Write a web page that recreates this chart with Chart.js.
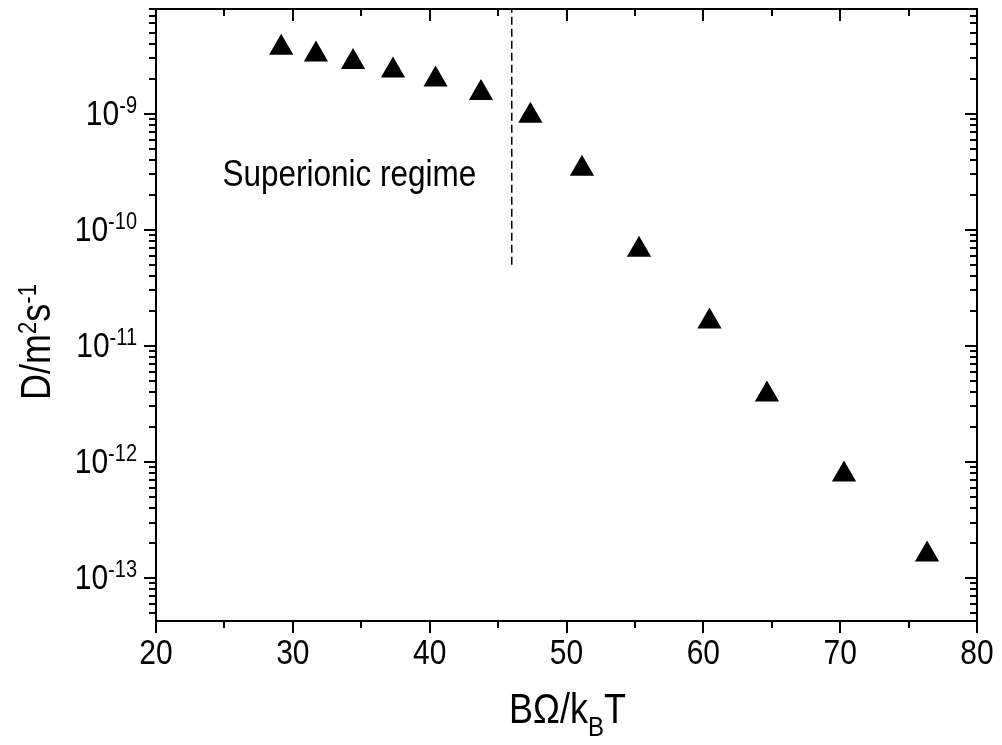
<!DOCTYPE html>
<html>
<head>
<meta charset="utf-8">
<script src="https://cdn.jsdelivr.net/npm/chart.js@4.4.1/dist/chart.umd.min.js"></script>
<style>
  html, body { margin: 0; padding: 0; background: #fff; }
  #wrap { width: 1002px; height: 745px; }
</style>
</head>
<body>
<div id="wrap"><canvas id="c" width="1002" height="745"></canvas></div>
<script>
// ---- data ----
const xValues = [29.15, 31.69, 34.40, 37.32, 40.43, 43.75, 47.36, 51.13, 55.30, 60.45, 64.65, 70.28, 76.35];
const dValues = [3.70e-9, 3.24e-9, 2.79e-9, 2.36e-9, 1.97e-9, 1.51e-9, 9.6e-10, 3.36e-10, 6.74e-11, 1.62e-11, 3.80e-12, 7.78e-13, 1.59e-13];
const dividerX = [46.0, 46.0];
const dividerY = [5e-11, 8e-9];
const xTickValues = [20, 30, 40, 50, 60, 70, 80];
const xTickLabels = ['20', '30', '40', '50', '60', '70', '80'];
const xMinorTicks = [25, 35, 45, 55, 65, 75];
const yDecadeExps = [-9, -10, -11, -12, -13];
const xRange = [20, 80];
const yRange = [4.25e-14, 8e-9];
const xTitleParts = ['BΩ/k', 'B', 'T'];
const yTitleParts = ['D/m', '2', 's', '-1'];
const annotationText = 'Superionic regime';
const annotationPos = [24.86, 2.37e-10];

const FONT = '"Liberation Sans", Arial, sans-serif';
const STRETCH = 1.16; // glyphs in the reference are taller than Arial's proportions

function stretchedText(ctx, text, x, y, size, align) {
  ctx.save();
  ctx.font = size + 'px ' + FONT;
  ctx.textAlign = align || 'left';
  ctx.textBaseline = 'alphabetic';
  ctx.translate(x, y);
  ctx.scale(1, STRETCH);
  ctx.fillText(text, 0, 0);
  ctx.restore();
}
function textWidth(ctx, text, size) {
  ctx.save();
  ctx.font = size + 'px ' + FONT;
  const w = ctx.measureText(text).width;
  ctx.restore();
  return w;
}

const framePlugin = {
  id: 'frame',
  afterDraw(chart) {
    const ctx = chart.ctx;
    const a = chart.chartArea;
    const xs = chart.scales.x, ys = chart.scales.y;
    ctx.save();
    ctx.strokeStyle = '#000';
    ctx.fillStyle = '#000';
    ctx.lineWidth = 2;
    ctx.lineCap = 'butt';
    ctx.strokeRect(a.left, a.top, a.right - a.left, a.bottom - a.top);
    const MAJ = 12, MIN = 7;
    ctx.beginPath();
    xTickValues.forEach(v => {
      const p = Math.round(xs.getPixelForValue(v));
      ctx.moveTo(p, a.bottom); ctx.lineTo(p, a.bottom + MAJ);
      ctx.moveTo(p, a.top); ctx.lineTo(p, a.top + MAJ);
    });
    xMinorTicks.forEach(v => {
      const p = Math.round(xs.getPixelForValue(v));
      ctx.moveTo(p, a.bottom); ctx.lineTo(p, a.bottom + MIN);
      ctx.moveTo(p, a.top); ctx.lineTo(p, a.top + MIN);
    });
    for (let e = -14; e <= -8; e++) {
      for (let m = 1; m <= 9; m++) {
        const v = m * Math.pow(10, e);
        if (v < yRange[0] * 0.999 || v > yRange[1] * 1.001) continue;
        const p = Math.round(ys.getPixelForValue(v));
        const len = m === 1 ? MAJ : MIN;
        ctx.moveTo(a.left, p); ctx.lineTo(a.left - len, p);
        ctx.moveTo(a.right, p); ctx.lineTo(a.right - len, p);
      }
    }
    ctx.stroke();

    // x tick labels
    xTickValues.forEach((v, i) => {
      stretchedText(ctx, xTickLabels[i], xs.getPixelForValue(v), a.bottom + 43, 30, 'center');
    });

    // y tick labels 10^e
    yDecadeExps.forEach(e => {
      const p = ys.getPixelForValue(Math.pow(10, e));
      const right = a.left - 19;
      const sup = String(e);
      const sw = textWidth(ctx, sup, 20);
      stretchedText(ctx, sup, right - sw, p - 0.5, 20, 'left');
      stretchedText(ctx, '10', right - sw, p + 11.5, 30, 'right');
    });

    // x title
    {
      const w0 = textWidth(ctx, xTitleParts[0], 36);
      const w1 = textWidth(ctx, xTitleParts[1], 24);
      const w2 = textWidth(ctx, xTitleParts[2], 36);
      let x = (a.left + a.right) / 2 - (w0 + w1 + w2) / 2 + 1;
      const base = 723;
      stretchedText(ctx, xTitleParts[0], x, base, 36); x += w0;
      stretchedText(ctx, xTitleParts[1], x, base + 13, 24); x += w1;
      stretchedText(ctx, xTitleParts[2], x, base, 36);
    }
    // y title (rotated)
    {
      const sizes = [36, 22, 36, 22];
      const shifts = [0, -14, 0, -14];
      const widths = yTitleParts.map((t, i) => textWidth(ctx, t, sizes[i]));
      const total = widths.reduce((s, w) => s + w, 0);
      ctx.save();
      ctx.translate(50, 342);
      ctx.rotate(-Math.PI / 2);
      let x = -total / 2;
      yTitleParts.forEach((t, i) => {
        stretchedText(ctx, t, x, shifts[i], sizes[i]);
        x += widths[i];
      });
      ctx.restore();
    }
    // annotation
    stretchedText(ctx, annotationText, xs.getPixelForValue(annotationPos[0]), ys.getPixelForValue(annotationPos[1]), 31.5);
    ctx.restore();
  }
};

const points = xValues.map((x, i) => ({ x, y: dValues[i] }));
const divider = dividerX.map((x, i) => ({ x, y: dividerY[i] }));

function zeroPad(s) { s.paddingLeft = 0; s.paddingRight = 0; s.paddingTop = 0; s.paddingBottom = 0; }

new Chart(document.getElementById('c'), {
  type: 'scatter',
  data: {
    datasets: [
      {
        label: 'D',
        data: points,
        pointStyle: 'triangle',
        pointRadius: 14,
        pointHoverRadius: 14,
        pointBorderWidth: 0,
        backgroundColor: '#000',
        borderColor: '#000',
        showLine: false
      },
      {
        label: 'divider',
        type: 'line',
        data: divider,
        borderColor: '#000',
        borderWidth: 1.5,
        borderDash: [8, 4],
        pointRadius: 0,
        fill: false
      }
    ]
  },
  options: {
    responsive: false,
    devicePixelRatio: 1,
    animation: false,
    events: [],
    layout: { autoPadding: false, padding: { left: 0, right: 25, top: 9, bottom: 0 } },
    plugins: { legend: { display: false }, tooltip: { enabled: false } },
    scales: {
      x: {
        type: 'linear',
        min: xRange[0], max: xRange[1],
        grid: { display: false, drawTicks: false },
        border: { display: false },
        afterFit: s => { s.height = 124; zeroPad(s); },
        ticks: { display: false, stepSize: 10 }
      },
      y: {
        type: 'logarithmic',
        min: yRange[0], max: yRange[1],
        grid: { display: false, drawTicks: false },
        border: { display: false },
        afterFit: s => { s.width = 156; zeroPad(s); },
        ticks: { display: false }
      }
    }
  },
  plugins: [framePlugin]
});
</script>
</body>
</html>
